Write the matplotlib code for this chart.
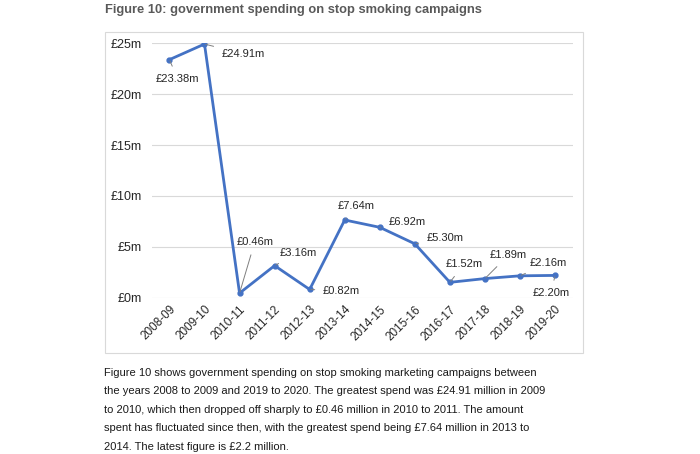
import matplotlib.pyplot as plt
from matplotlib.patches import Rectangle

plt.rcParams["font.family"] = ["Liberation Sans", "DejaVu Sans"]

years = ["2008-09", "2009-10", "2010-11", "2011-12", "2012-13", "2013-14",
         "2014-15", "2015-16", "2016-17", "2017-18", "2018-19", "2019-20"]
spend = [23.38, 24.91, 0.46, 3.16, 0.82, 7.64, 6.92, 5.30, 1.52, 1.89, 2.16, 2.20]
y_ticks = [0, 5, 10, 15, 20, 25]

# label offsets in points (dx, dy) for each data label
offsets = [(6, -14), (28, -7), (11, 37), (17, 9), (23, -1), (8, 10),
           (20, 4), (22, 4), (10, 13), (17, 17), (20, 9), (-3, -13)]

fig = plt.figure(figsize=(7.0, 4.54), dpi=100)
ax = fig.add_axes([0.217, 0.344, 0.601, 0.561])

line_color = "#4472C4"
x = list(range(len(years)))
ax.plot(x, spend, color=line_color, linewidth=2.0, marker="o", markersize=3.5,
        zorder=3)

for i, v in enumerate(spend):
    dx, dy = offsets[i]
    ax.annotate(f"£{v:.2f}m", xy=(i, v), xytext=(dx, dy),
                textcoords="offset points", ha="center", va="center",
                fontsize=8, color="#262626",
                arrowprops=dict(arrowstyle="-", color="#7f7f7f", lw=0.7,
                                shrinkA=4, shrinkB=1))

ax.set_xlim(-0.5, len(years) - 0.5)
ax.set_ylim(0, 25)
ax.set_yticks(y_ticks)
ax.set_yticklabels([f"£{t}m" for t in y_ticks], fontsize=9, color="#262626")
ax.set_xticks(x)
ax.set_xticklabels(years, rotation=45, ha="right", rotation_mode="anchor",
                   fontsize=8.5, color="#262626")
ax.tick_params(length=0, pad=4)
ax.tick_params(axis="y", pad=7)
ax.grid(axis="y", color="#d9d9d9", linewidth=0.8)
ax.set_axisbelow(True)
for s in ax.spines.values():
    s.set_visible(False)

# chart frame
fig.patches.append(Rectangle((105 / 700, 1 - 353 / 454), 478 / 700, 321 / 454,
                             transform=fig.transFigure, fill=False,
                             edgecolor="#d9d9d9", linewidth=0.8))

fig.text(105 / 700, 1 - 10 / 454,
         "Figure 10: government spending on stop smoking campaigns",
         fontsize=9.3, fontweight="bold", color="#595959", va="center")

body = ("Figure 10 shows government spending on stop smoking marketing campaigns between\n"
        "the years 2008 to 2009 and 2019 to 2020. The greatest spend was £24.91 million in 2009\n"
        "to 2010, which then dropped off sharply to £0.46 million in 2010 to 2011. The amount\n"
        "spent has fluctuated since then, with the greatest spend being £7.64 million in 2013 to\n"
        "2014. The latest figure is £2.2 million.")
fig.text(104 / 700, 1 - 368 / 454, body, fontsize=8, color="#1a1a1a",
         va="top", linespacing=2.06)

fig.savefig("out.png", dpi=100)
